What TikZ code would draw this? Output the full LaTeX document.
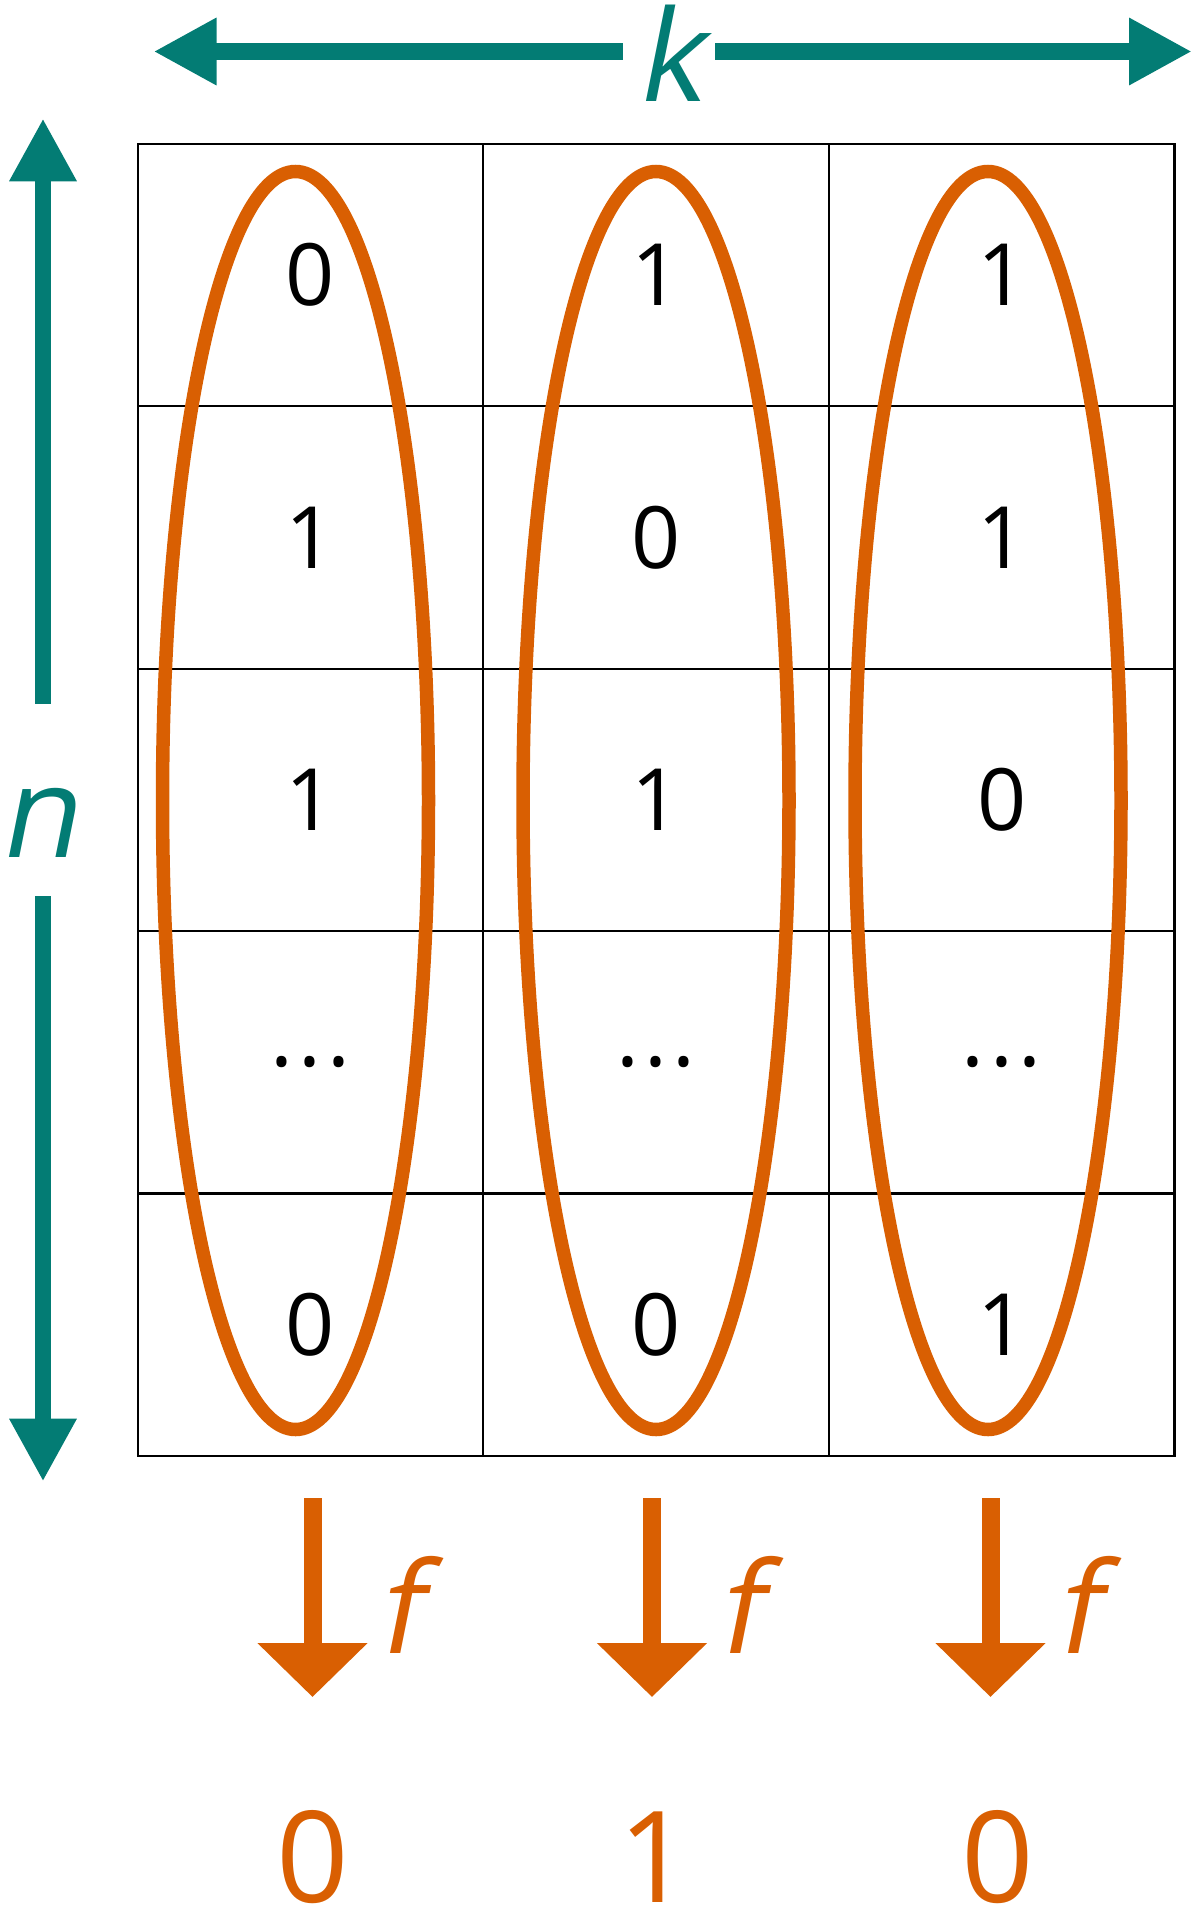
\documentclass[tikz,border=0pt]{standalone}
\usepackage{fontspec}
\setmainfont{Open Sans}
\newfontfamily\obliquefont[FakeSlant=0.2]{Open Sans}
\usetikzlibrary{arrows.meta, positioning}
\definecolor{axisteal}{RGB}{3,124,116}
\definecolor{maporange}{RGB}{217,95,2}
\newcommand{\dotrow}{.\kern5.4pt.\kern5.4pt.}

\begin{document}
\begin{tikzpicture}[
    x=1pt, y=-1pt,
    cell/.style={draw, line width=2.2pt, minimum width=345.6pt, minimum height=262.4pt,
        inner sep=0, outer sep=0, font=\fontsize{86}{86}\selectfont},
    axis/.style={draw=axisteal, line width=16.5pt, -{Triangle[length=63pt, width=63pt]}},
    axislabel/.style={text=axisteal, inner sep=0, font=\obliquefont\fontsize{127}{127}\selectfont},
    group/.style={draw=maporange, line width=13.5pt},
    map/.style={draw=maporange, line width=18pt, -{Triangle[length=54pt, width=107pt]}},
    maplabel/.style={text=maporange, inner sep=0, font=\obliquefont\fontsize{127}{127}\selectfont},
    result/.style={text=maporange, inner sep=0, font=\fontsize{127}{127}\selectfont}
]
\useasboundingbox (0,0) rectangle (1194,1911);

% Table of bits, one row per sample
\foreach \row [count=\r] in {{0,1,1},{1,0,1},{1,1,0},{\dotrow,\dotrow,\dotrow},{0,0,1}} {
    \foreach \val [count=\c] in \row {
        \node[cell] (cell-\r-\c) at ({137.7+(\c-0.5)*345.6}, {143.8+(\r-0.5)*262.4}) {\val};
    }
}

% Columns grouped
\foreach \cx [count=\i] in {295.5, 656, 988} {
    \draw[group] (\cx,800.5) ellipse [x radius=133, y radius=629];
}

% k axis
\node[axislabel, minimum width=92pt, text height=99pt, text depth=0pt, anchor=base] (k) at (669,101) {k};
\coordinate (k-left) at (153.5,51.5);
\coordinate (k-right) at (1192,51.5);
\draw[axis] (k.west) -- (k-left);
\draw[axis] (k.east) -- (k-right);

% n axis
\node[axislabel, text height=153pt, text depth=39pt, anchor=base] (n) at (37,857) {n};
\coordinate (n-top) at (43,118.3);
\coordinate (n-bottom) at (43,1481.6);
\draw[axis] (n.north -| n-top) -- (n-top);
\draw[axis] (n.south -| n-top) -- (n-bottom);

% f applied to every column
\foreach \ax/\ox/\val [count=\i] in {312.5/313/0, 652/655/1, 990.5/998/0} {
    \coordinate (map\i-start) at (\ax,1498);
    \coordinate (map\i-end) at (\ax,1697);
    \draw[map] (map\i-start) -- (map\i-end);
    \node[maplabel, anchor=base] (f\i) at (\ax+86,1653) {f};
    \node[result, anchor=base] (out\i) at (\ox,1902) {\val};
}

\end{tikzpicture}
\end{document}
